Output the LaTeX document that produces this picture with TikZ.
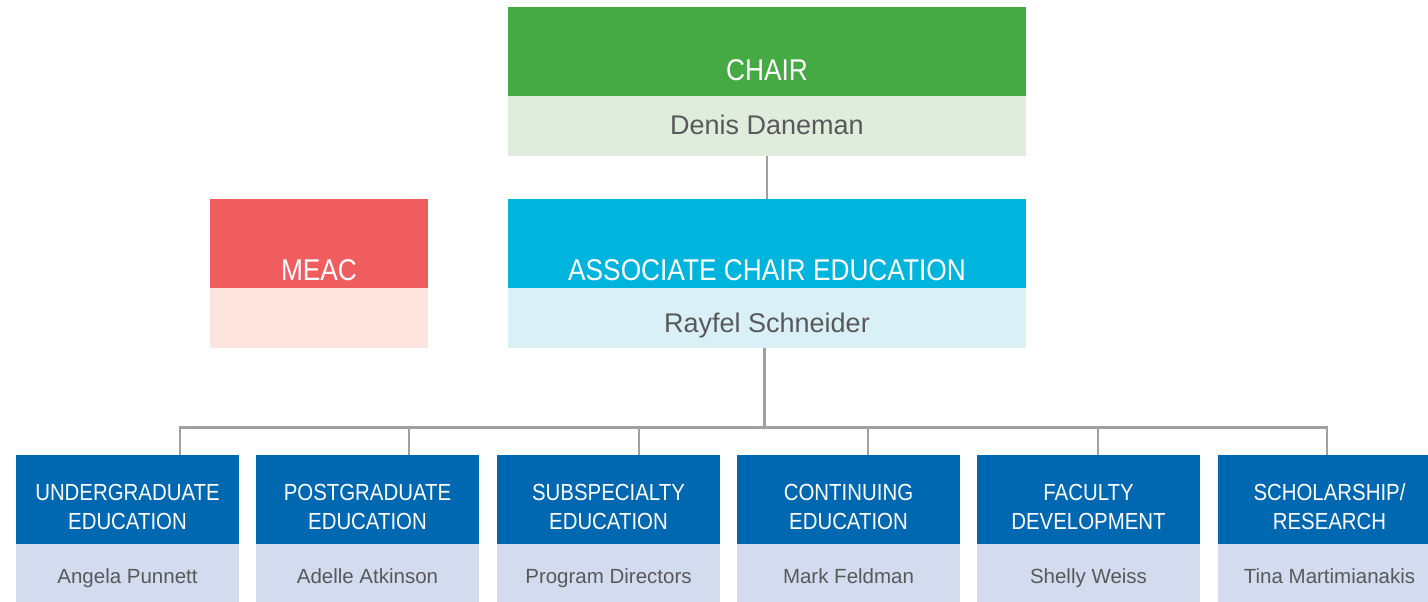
\documentclass[tikz,border=0pt]{standalone}
\usepackage{fontspec}
\usetikzlibrary{calc}
\setmainfont{Liberation Sans}
\newfontfamily\capfont{Liberation Sans}[FakeStretch=0.876]
\newfontfamily\namefont{Liberation Sans}
\definecolor{cgreen}{HTML}{46AA44}
\definecolor{lgreen}{HTML}{E1EDDC}
\definecolor{cred}{HTML}{F05D5E}
\definecolor{lred}{HTML}{FEE4DE}
\definecolor{ccyan}{HTML}{00B5DD}
\definecolor{lcyan}{HTML}{DAF0F7}
\definecolor{cblue}{HTML}{0067B1}
\definecolor{lblue}{HTML}{D3DCEE}
\definecolor{cline}{HTML}{9DA1A5}
\definecolor{ctext}{HTML}{58595B}
\begin{document}
\begin{tikzpicture}[x=1pt,y=-1pt,
  panel/.style={rectangle, inner sep=0pt, outer sep=0pt, anchor=north west, draw=none},
  bigtitle/.style={anchor=base, inner sep=0pt, text=white, font=\capfont\fontsize{30}{34}\selectfont},
  bigname/.style={anchor=base, inner sep=0pt, text=ctext, font=\namefont\fontsize{27}{31}\selectfont},
  smalltitle/.style={anchor=base, inner sep=0pt, text=white, font=\capfont\fontsize{23.3}{28}\selectfont},
  smallname/.style={anchor=base, inner sep=0pt, text=ctext, font=\namefont\fontsize{20.5}{24}\selectfont},
  conn/.style={draw=cline, line width=2.9pt}]
\clip (0,0) rectangle (1428,602);
% top: chair
\node[panel, fill=cgreen, minimum width=518pt, minimum height=89pt] (chairhdr) at (508,7) {};
\node[panel, fill=lgreen, minimum width=518pt, minimum height=59.7pt] (chairname) at (508,96) {};
\node[bigtitle] (chairt) at (767,81) {CHAIR};
\node[bigname] (chairn) at (767,134.5) {Denis Daneman};
% MEAC
\node[panel, fill=cred, minimum width=218pt, minimum height=89pt] (meachdr) at (210,199) {};
\node[panel, fill=lred, minimum width=218pt, minimum height=59.7pt] (meacname) at (210,288) {};
\node[bigtitle] (meact) at (319,280) {MEAC};
% associate chair
\node[panel, fill=ccyan, minimum width=518pt, minimum height=89pt] (assohdr) at (508,199) {};
\node[panel, fill=lcyan, minimum width=518pt, minimum height=59.7pt] (assoname) at (508,288) {};
\node[bigtitle] (assot) at (767,280) {ASSOCIATE CHAIR EDUCATION};
\node[bigname] (asson) at (767,332.5) {Rayfel Schneider};
% bottom boxes
\foreach \i/\x/\la/\lb/\nm in {
  1/16/UNDERGRADUATE/EDUCATION/Angela Punnett,
  2/256/POSTGRADUATE/EDUCATION/Adelle Atkinson,
  3/497/SUBSPECIALTY/EDUCATION/Program Directors,
  4/737/CONTINUING/EDUCATION/Mark Feldman,
  5/977/FACULTY/DEVELOPMENT/Shelly Weiss,
  6/1218/{SCHOLARSHIP/}/RESEARCH/Tina Martimianakis}{
  \node[panel, fill=cblue, minimum width=223pt, minimum height=89pt] (b\i) at (\x,455) {};
  \node[panel, fill=lblue, minimum width=223pt, minimum height=58pt] (n\i) at (\x,544) {};
  \node[smalltitle] (b\i a) at ($(b\i.north)+(0,45)$) {\la};
  \node[smalltitle] (b\i b) at ($(b\i.north)+(0,74.3)$) {\lb};
  \node[smallname] (n\i t) at ($(n\i.north)+(0,39.3)$) {\nm};
}
% connectors
\coordinate (top) at (764.5,427.7);
\coordinate (d1) at (180,427.7);
\coordinate (d2) at (409,427.7);
\coordinate (d3) at (639,427.7);
\coordinate (d4) at (868,427.7);
\coordinate (d5) at (1098,427.7);
\coordinate (d6) at (1327,427.7);
\draw[conn] (chairname.south) -- (assohdr.north);
\draw[conn] (top |- assoname.south) -- (top);
\draw[conn, line cap=rect] (d1) -- (d6);
\foreach \i in {1,...,6}{
  \draw[conn] (d\i) -- (d\i |- b\i.north);
}
\end{tikzpicture}
\end{document}
